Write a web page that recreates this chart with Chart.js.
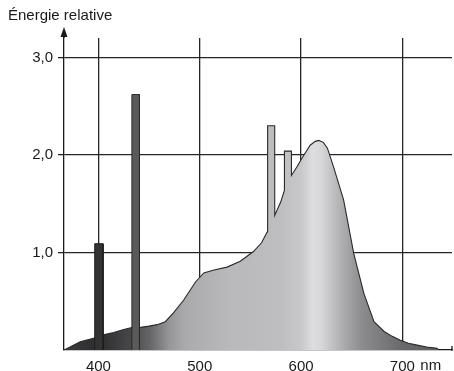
<!DOCTYPE html>
<html>
<head>
<meta charset="utf-8">
<script src="https://cdn.jsdelivr.net/npm/chart.js@4"></script>
<style>
  html, body { margin: 0; padding: 0; background: #fff; }
  #wrap { position: relative; width: 454px; height: 371px; }
</style>
</head>
<body>
<div id="wrap"><canvas id="chart" width="454" height="371"></canvas></div>
<script>
// spectrum (nm, relative energy); spikes at 570 and 590 are part of the curve
const curveNm = [366, 372, 382, 395, 400, 405, 415, 425, 433, 440, 450, 458, 466, 474, 484, 496, 504, 514, 527, 540, 553, 561, 566.5,
                 567, 567, 574, 574, 580, 583.6, 583.6, 590.5, 590.5, 596, 601, 609, 614, 617.5, 622, 626, 632, 642, 652, 662, 672, 682, 690, 698, 706, 714.6, 724, 734, 736];
const curveVal = [0.0, 0.03, 0.085, 0.12, 0.13, 0.155, 0.18, 0.21, 0.23, 0.23, 0.245, 0.26, 0.29, 0.38, 0.51, 0.70, 0.79, 0.82, 0.85, 0.91, 1.01, 1.10, 1.21,
                  1.23, 2.30, 2.30, 1.38, 1.52, 1.64, 2.04, 2.04, 1.79, 1.88, 1.97, 2.10, 2.14, 2.15, 2.13, 2.07, 1.88, 1.54, 0.99, 0.58, 0.29, 0.19, 0.14, 0.10, 0.07, 0.05, 0.03, 0.017, 0.0];

// mercury lines drawn as separate bars
const lineFrom = [396.3, 433.0];
const lineTo = [404.6, 440.5];
const lineVal = [1.09, 2.62];

const xTicks = [400, 500, 600, 700];
const yTicks = [1, 2, 3];
const yTitle = 'Énergie relative';
const xUnit = 'nm';

// grey levels of the fill along the wavelength axis
const shadeNm = [366, 400, 430, 450, 470, 485, 530, 580, 600, 612, 620, 640, 660, 700, 749];
const shadeGrey = [60, 45, 70, 100, 150, 170, 185, 190, 200, 222, 215, 175, 140, 105, 90];

const FONT = '"Liberation Sans", Arial, sans-serif';

function barData(i) {
  return [
    { x: lineFrom[i], y: 0 }, { x: lineFrom[i], y: lineVal[i] },
    { x: lineTo[i], y: lineVal[i] }, { x: lineTo[i], y: 0 }
  ];
}

function spectrumFill(context) {
  const chart = context.chart;
  const { ctx, chartArea, scales } = chart;
  if (!chartArea) return '#aaa';
  const x0 = scales.x.getPixelForValue(366);
  const x1 = scales.x.getPixelForValue(749);
  const g = ctx.createLinearGradient(x0, 0, x1, 0);
  shadeNm.forEach((nm, i) => {
    const v = shadeGrey[i];
    g.addColorStop((nm - 366) / (749 - 366), `rgb(${v},${v},${v + 3})`);
  });
  return g;
}

const decor = {
  id: 'decor',
  afterDraw(chart) {
    const { ctx, chartArea, scales } = chart;
    const ax = chartArea.left;
    ctx.save();
    // y axis arrow
    ctx.strokeStyle = '#1a1a1a';
    ctx.lineWidth = 1.3;
    ctx.beginPath();
    ctx.moveTo(ax, chartArea.top);
    ctx.lineTo(ax, 34);
    ctx.stroke();
    ctx.fillStyle = '#1a1a1a';
    ctx.beginPath();
    ctx.moveTo(ax, 27);
    ctx.lineTo(ax - 3.5, 37);
    ctx.lineTo(ax + 3.5, 37);
    ctx.closePath();
    ctx.fill();
    // small end mark of the x axis
    ctx.beginPath();
    ctx.moveTo(chartArea.right, chartArea.bottom - 4);
    ctx.lineTo(chartArea.right, chartArea.bottom + 1);
    ctx.stroke();
    // axis title and unit
    ctx.font = '15px ' + FONT;
    ctx.textBaseline = 'middle';
    ctx.textAlign = 'left';
    ctx.fillText(yTitle, 8, 16);
    ctx.textBaseline = 'top';
    ctx.fillText(xUnit, scales.x.getPixelForValue(700) + 18, chartArea.bottom + 8);
    ctx.restore();
  }
};

new Chart(document.getElementById('chart'), {
  type: 'line',
  data: {
    datasets: [
      {
        data: barData(0),
        borderColor: '#1e1e1e',
        backgroundColor: '#333333',
        borderWidth: 1,
        fill: 'origin',
        pointRadius: 0,
        order: 0
      },
      {
        data: barData(1),
        borderColor: '#2a2a2a',
        backgroundColor: '#5a5a5a',
        borderWidth: 1,
        fill: 'origin',
        pointRadius: 0,
        order: 1
      },
      {
        data: curveNm.map((nm, i) => ({ x: nm, y: curveVal[i] })),
        borderColor: '#2a2a2a',
        backgroundColor: spectrumFill,
        borderWidth: 1.1,
        fill: 'origin',
        pointRadius: 0,
        tension: 0,
        order: 2
      }
    ]
  },
  options: {
    responsive: false,
    animation: false,
    layout: { padding: { top: 38, right: 2, left: 0, bottom: 0 } },
    plugins: { legend: { display: false }, tooltip: { enabled: false } },
    scales: {
      x: {
        type: 'linear',
        min: 366,
        max: 749,
        z: 1,
        afterBuildTicks: s => { s.ticks = xTicks.map(v => ({ value: v })); },
        afterFit: s => { s.height = 21; },
        ticks: {
          color: '#1a1a1a',
          font: { size: 15, family: FONT },
          padding: 8,
          maxRotation: 0
        },
        grid: { color: '#262626', lineWidth: 1.3, tickLength: 0, drawTicks: false },
        border: { color: '#1a1a1a', width: 1.3 }
      },
      y: {
        min: 0,
        max: 3.2,
        z: 1,
        afterBuildTicks: s => { s.ticks = yTicks.map(v => ({ value: v })); },
        afterFit: s => { s.width = 64; },
        ticks: {
          color: '#1a1a1a',
          font: { size: 15, family: FONT },
          padding: 5,
          callback: v => v.toFixed(1).replace('.', ',')
        },
        grid: { color: '#262626', lineWidth: 1.3, tickLength: 6 },
        border: { color: '#1a1a1a', width: 1.3 }
      }
    }
  },
  plugins: [decor]
});
</script>
</body>
</html>
